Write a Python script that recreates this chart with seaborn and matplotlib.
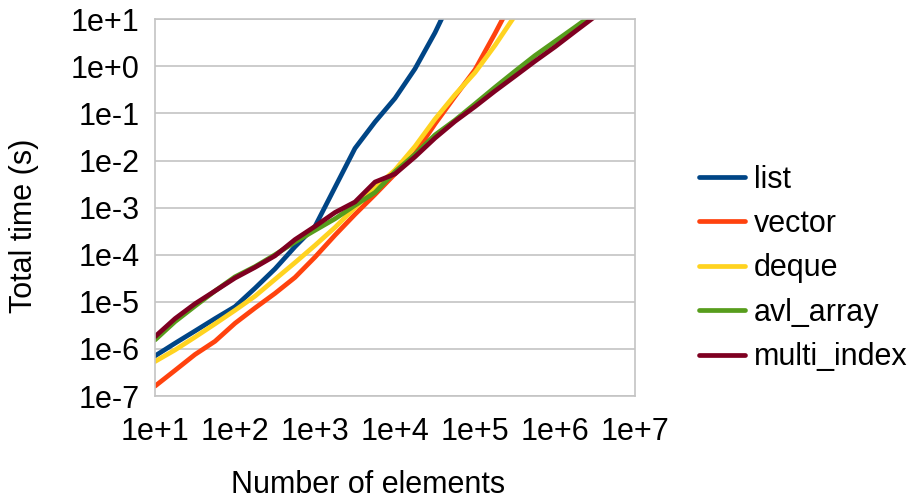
import numpy as np
import pandas as pd
import matplotlib
matplotlib.use("Agg")
import matplotlib.pyplot as plt
import matplotlib.ticker as mticker
import seaborn as sns

# Number of elements (x) – shared grid, each series uses the first len(values) entries
sizes = [10, 17.8, 31.6, 56.2, 100, 178, 316, 562, 1000, 1778, 3162, 5623,
         10000, 17783, 31623, 56234, 100000, 177828, 316228, 562341,
         1000000, 1778279, 3162278]

series_names = ["list", "vector", "deque", "avl_array", "multi_index"]

list_times = [7.1e-7, 1.32e-6, 2.4e-6, 4.4e-6, 7.9e-6, 1.95e-5, 5.0e-5, 1.48e-4,
              4.0e-4, 2.7e-3, 1.82e-2, 6.6e-2, 0.21, 0.89, 5.2, 40]
vector_times = [1.62e-7, 3.5e-7, 7.6e-7, 1.45e-6, 3.5e-6, 7.4e-6, 1.51e-5, 3.3e-5,
                8.9e-5, 2.6e-4, 7.2e-4, 1.9e-3, 5.2e-3, 1.41e-2, 6.0e-2, 0.23,
                0.85, 5.0, 32]
deque_times = [5.4e-7, 9.5e-7, 1.78e-6, 3.4e-6, 6.6e-6, 1.32e-5, 3.0e-5, 6.8e-5,
               1.58e-4, 3.8e-4, 1.0e-3, 2.6e-3, 6.3e-3, 2.0e-2, 7.6e-2, 0.25,
               0.74, 2.8, 12]
avl_array_times = [1.55e-6, 3.8e-6, 8.1e-6, 1.7e-5, 3.4e-5, 5.6e-5, 1.0e-4, 1.86e-4,
                   3.3e-4, 5.8e-4, 1.12e-3, 2.1e-3, 5.8e-3, 1.35e-2, 3.5e-2, 7.2e-2,
                   0.16, 0.36, 0.79, 1.7, 3.4, 6.8, 13.8]
multi_index_times = [1.82e-6, 4.4e-6, 9.1e-6, 1.7e-5, 3.2e-5, 5.4e-5, 9.5e-5, 2.1e-4,
                     4.0e-4, 7.9e-4, 1.32e-3, 3.5e-3, 5.2e-3, 1.2e-2, 3.0e-2, 6.8e-2,
                     0.14, 0.30, 0.62, 1.29, 2.6, 5.5, 11.5]

colors = ["#004586", "#ff420e", "#ffd320", "#579d1c", "#7e0021"]

y_ticks = [1e-7, 1e-6, 1e-5, 1e-4, 1e-3, 1e-2, 1e-1, 1e0, 1e1]
x_ticks = [1e1, 1e2, 1e3, 1e4, 1e5, 1e6, 1e7]

rows = []
for name, vals in zip(series_names, [list_times, vector_times, deque_times,
                                     avl_array_times, multi_index_times]):
    for x, v in zip(sizes, vals):
        rows.append({"n": x, "t": v, "series": name})
df = pd.DataFrame(rows)

sns.set_style("white")
plt.rcParams["font.family"] = ["Liberation Sans", "DejaVu Sans"]
plt.rcParams["text.color"] = "black"

fig = plt.figure(figsize=(9.13, 5.01), dpi=100)
ax = fig.add_axes([155 / 913, 1 - 396 / 501, (635 - 155) / 913, (396 - 19.3) / 501])

sns.lineplot(data=df, x="n", y="t", hue="series", hue_order=series_names,
             palette=colors, linewidth=3.4, ax=ax, legend=True, sort=False)

ax.set_xscale("log")
ax.set_yscale("log")
ax.set_xlim(1e1, 1e7)
ax.set_ylim(1e-7, 1e1)

fs = 22
ax.xaxis.set_major_locator(mticker.FixedLocator(x_ticks))
ax.yaxis.set_major_locator(mticker.FixedLocator(y_ticks))
ax.xaxis.set_minor_locator(mticker.NullLocator())
ax.yaxis.set_minor_locator(mticker.NullLocator())
fmt = mticker.FuncFormatter(lambda v, p: "1e{:+d}".format(int(round(np.log10(v)))))
ax.xaxis.set_major_formatter(fmt)
ax.yaxis.set_major_formatter(fmt)

ax.grid(axis="y", color="#c4c4c4", linewidth=1.2)
ax.grid(axis="x", visible=False)
for s in ax.spines.values():
    s.set_color("#c4c4c4")
    s.set_linewidth(1.2)
ax.tick_params(axis="both", which="major", direction="out", length=6,
               width=1.2, color="#c4c4c4", labelsize=fs, labelcolor="black")
ax.tick_params(axis="y", pad=5)
ax.tick_params(axis="x", pad=9)

ax.set_xlabel("")
ax.set_ylabel("")
fig.text(368 / 913, 1 - 493 / 501, "Number of elements", fontsize=fs,
         ha="center", va="baseline", color="black")
fig.text(24 / 913, 1 - 226 / 501, "Total time (s)", fontsize=fs, rotation=90,
         ha="center", va="center", color="black")

handles, labels = ax.get_legend_handles_labels()
leg = ax.legend(handles, labels, loc="center left",
                bbox_to_anchor=(699 / 913, 1 - 268.5 / 501), bbox_transform=fig.transFigure,
                frameon=False, fontsize=fs, handlelength=1.5, handletextpad=0.3,
                labelspacing=0.47, borderpad=0, borderaxespad=0)
for t in leg.get_texts():
    t.set_color("black")

fig.savefig("out.png", dpi=100)
